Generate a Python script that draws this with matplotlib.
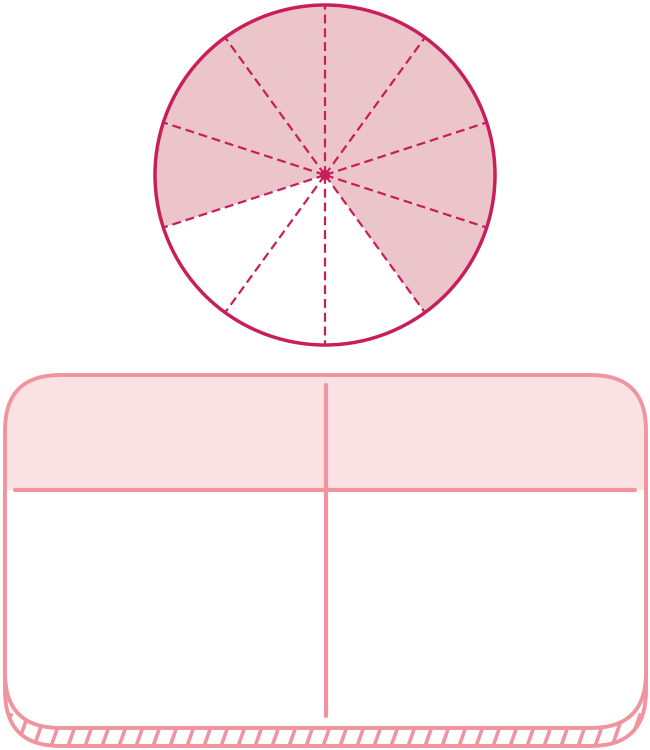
import matplotlib
matplotlib.use('Agg')
import matplotlib.pyplot as plt
from matplotlib.patches import Wedge, Circle, FancyBboxPatch, Rectangle
import numpy as np

# fraction circle: 10 equal parts, 7 shaded (listed counter-clockwise from 12 o'clock)
n_parts = 10
shaded = [1, 1, 1, 0, 0, 0, 1, 1, 1, 1]

# table: 2 columns, header row + body row
n_cols = 2
n_rows = 2

CIRCLE_EDGE = '#C81F5A'
CIRCLE_FILL = '#ECC5CA'
TABLE_EDGE = '#F0959F'
HEADER_FILL = '#F9E1E4'

fig = plt.figure(figsize=(6.5, 7.5), dpi=100)
ax = fig.add_axes([0, 0, 1, 1])
ax.set_xlim(0, 650)
ax.set_ylim(0, 750)
ax.set_aspect('equal')
ax.axis('off')

# ---- circle ----
cx, cy, r = 325, 575, 170
step = 360.0 / n_parts
for i, s in enumerate(shaded):
    a0 = 90 + i * step
    ax.add_patch(Wedge((cx, cy), r, a0, a0 + step,
                       facecolor=CIRCLE_FILL if s else 'white', edgecolor='none'))
for i in range(n_parts):
    a = np.radians(90 + i * step)
    ax.plot([cx, cx + r * np.cos(a)], [cy, cy + r * np.sin(a)],
            color=CIRCLE_EDGE, lw=1.6, ls=(0, (4, 2.2)))
ax.add_patch(Circle((cx, cy), r, facecolor='none', edgecolor=CIRCLE_EDGE, lw=2.5))
ax.add_patch(Circle((cx, cy), 5, facecolor=CIRCLE_EDGE, edgecolor='none'))

# ---- table ----
x0, x1 = 5, 646
top, bot = 375, 22
shift = 18
rad = 55
box = 'round,pad=0,rounding_size=%d' % rad

shadow = FancyBboxPatch((x0, bot - shift), x1 - x0, top - bot, boxstyle=box,
                        facecolor='white', edgecolor='none', zorder=1)
ax.add_patch(shadow)
# slanted hatch strokes under the table
for hx in np.arange(-20, 680, 17):
    ln, = ax.plot([hx, hx + 14], [-5, 35], color=TABLE_EDGE, lw=2.6, zorder=2)
    ln.set_clip_path(shadow)
ax.add_patch(FancyBboxPatch((x0, bot - shift), x1 - x0, top - bot, boxstyle=box,
                            facecolor='none', edgecolor=TABLE_EDGE, lw=2.8, zorder=3))

ax.add_patch(FancyBboxPatch((x0, bot), x1 - x0, top - bot, boxstyle=box,
                            facecolor='white', edgecolor='none', zorder=4))
header_y = 260
header = FancyBboxPatch((x0, bot), x1 - x0, top - bot, boxstyle=box,
                        facecolor=HEADER_FILL, edgecolor='none', zorder=5)
ax.add_patch(header)
header.set_clip_path(Rectangle((0, header_y), 650, 200, transform=ax.transData))
ax.add_patch(FancyBboxPatch((x0, bot), x1 - x0, top - bot, boxstyle=box,
                            facecolor='none', edgecolor=TABLE_EDGE, lw=2.8, zorder=6))

# grid lines
ax.plot([15, 635], [header_y, header_y], color=TABLE_EDGE, lw=3, solid_capstyle='round', zorder=7)
col_x = x0 + (x1 - x0) / n_cols
ax.plot([col_x, col_x], [34, 365], color=TABLE_EDGE, lw=3, solid_capstyle='round', zorder=7)

fig.savefig('out.png', dpi=100)
